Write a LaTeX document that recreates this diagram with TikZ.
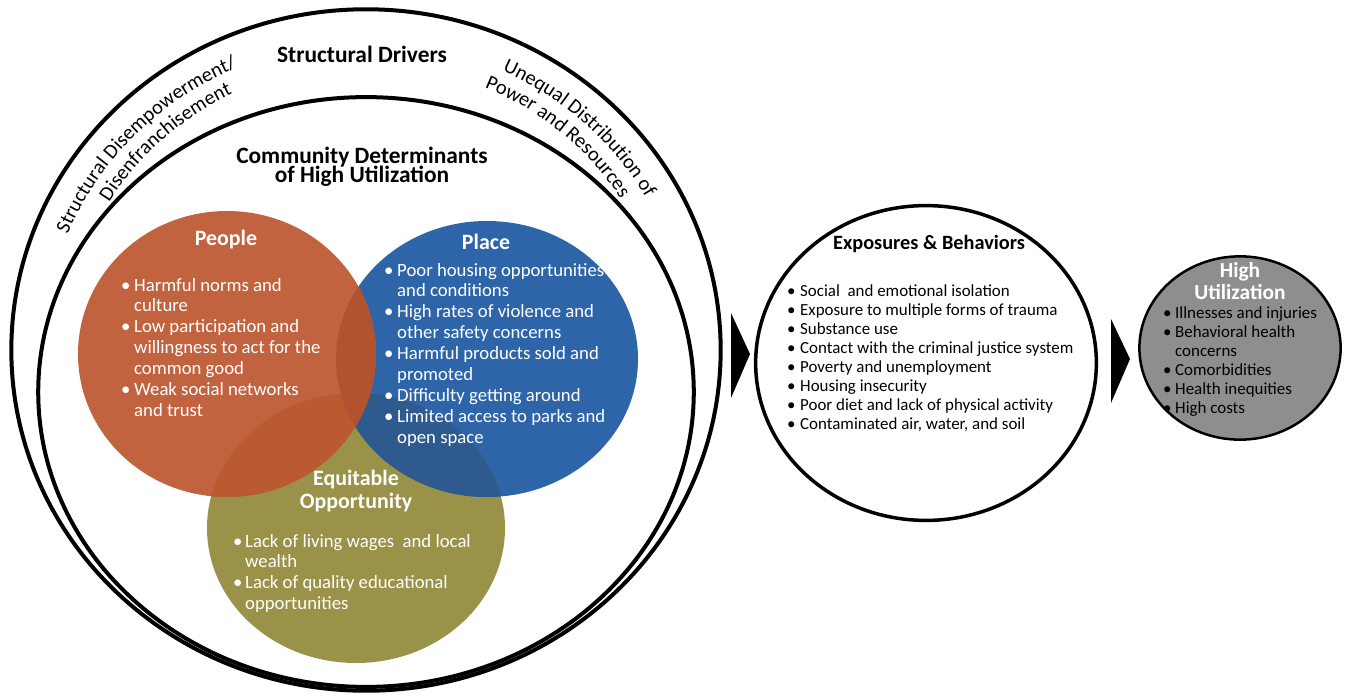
\documentclass[tikz,border=0pt]{standalone}
\usepackage{fontspec}
\setmainfont{Carlito}
\usetikzlibrary{decorations.text,shapes.geometric}
\definecolor{cPeople}{RGB}{194,99,64}
\definecolor{cPlace}{RGB}{46,101,168}
\definecolor{cEquit}{RGB}{154,146,72}
\definecolor{cPP}{RGB}{178,83,48}
\definecolor{cPE}{RGB}{185,90,48}
\definecolor{cLE}{RGB}{46,90,142}
\definecolor{cHU}{RGB}{142,142,142}
\newlength\bw
\newcommand\bl{\makebox[\bw][l]{\textbullet}}
\newcommand\ind{\hspace*{\bw}}
\newcommand\cvf{\fontsize{20.5}{20.5}\selectfont}
\begin{document}
\begin{tikzpicture}[x=1bp,y=1bp,
  ring/.style={draw=black, line width=4bp},
  peopleC/.style={insert path={(227,-354) ellipse [x radius=149, y radius=143]}},
  placeC/.style={insert path={(487,-359) ellipse [x radius=151, y radius=138]}},
  equitC/.style={insert path={(356,-528) ellipse [x radius=149, y radius=135]}},
  maintitle/.style={anchor=base, inner sep=0, font=\fontsize{23.5}{23.5}\selectfont\bfseries},
  vtitle/.style={anchor=base, inner sep=0, text=white, font=\fontsize{22}{23.5}\selectfont\bfseries},
  vlist/.style={anchor=base west, inner sep=0, text=white, font=\fontsize{18.8}{21}\selectfont},
  elist/.style={anchor=base west, inner sep=0, text=black, font=\fontsize{17}{19.2}\selectfont},
  curved/.style={decorate, decoration={text along path, text align=center, text={|\cvf|#1}}}
]
\useasboundingbox (0,0) rectangle (1351,-696);

% Venn circles
\fill[cEquit, equitC];
\fill[cPlace, placeC];
\fill[cPeople, peopleC];
\begin{scope}\path[clip, placeC]; \fill[cLE, equitC];\end{scope}
\begin{scope}\path[clip, peopleC]; \fill[cPE, equitC];\end{scope}
\begin{scope}\path[clip, peopleC]; \fill[cPP, placeC];\end{scope}

% rings
\node[ring, ellipse, minimum width=712, minimum height=684, inner sep=0] (outer) at (366,-350) {};
\node[ring, ellipse, minimum width=658, minimum height=592, inner sep=0] (inner) at (366,-392) {};

% curved labels
\path[curved={Structural Disempowerment/}] (366,-350) ++(171:322 and 308) arc[start angle=171, end angle=101, x radius=322, y radius=308];
\path[curved={Disenfranchisement}] (366,-350) ++(168:300 and 286) arc[start angle=168, end angle=98, x radius=300, y radius=286];
\path[curved={Unequal Distribution of}] (366,-350) ++(82:322 and 308) arc[start angle=82, end angle=12, x radius=322, y radius=308];
\path[curved={Power and Resources}] (366,-350) ++(84:300 and 286) arc[start angle=84, end angle=14, x radius=300, y radius=286];

\node[maintitle] (sd) at (362,-63) {Structural Drivers};
\node[maintitle] (cd1) at (362,-163) {Community Determinants};
\node[maintitle] (cd2) at (362,-182) {of High Utilization};

% People
\node[vtitle] (peopleT) at (226,-245) {People};
\node[vlist] (peopleL) at (121,-291) {\setlength\bw{13bp}\begin{tabular}[t]{@{}l@{}}
\bl Harmful norms and\\ \ind culture\\
\bl Low participation and\\ \ind willingness to act for the\\ \ind common good\\
\bl Weak social networks\\ \ind and trust\end{tabular}};

% Place
\node[vtitle] (placeT) at (486,-249) {Place};
\node[vlist] (placeL) at (384,-276) {\setlength\bw{13bp}\begin{tabular}[t]{@{}l@{}}
\bl Poor housing opportunities\\ \ind and conditions\\
\bl High rates of violence and\\ \ind other safety concerns\\
\bl Harmful products sold and\\ \ind promoted\\
\bl Difficulty getting around\\
\bl Limited access to parks and\\ \ind open space\end{tabular}};

% Equitable opportunity
\node[vtitle] (equitT) at (356,-485) {\begin{tabular}[t]{@{}c@{}}Equitable\\ Opportunity\end{tabular}};
\node[vlist] (equitL) at (233,-547) {\setlength\bw{12bp}\begin{tabular}[t]{@{}l@{}}
\bl Lack of living wages\ \ and local\\ \ind wealth\\
\bl Lack of quality educational\\ \ind opportunities\end{tabular}};

% arrows
\coordinate (a1t) at (731,-313); \coordinate (a1b) at (731,-398); \coordinate (a1p) at (750,-354);
\fill (a1t) -- (a1p) -- (a1b) -- cycle;
\coordinate (a2t) at (1111,-319); \coordinate (a2b) at (1111,-403); \coordinate (a2p) at (1130,-359);
\fill (a2t) -- (a2p) -- (a2b) -- cycle;

% Exposures
\node[ellipse, draw, line width=3.5bp, minimum width=342, minimum height=316, inner sep=0] (expo) at (926,-363) {};
\node[anchor=base, inner sep=0, font=\fontsize{20.4}{20.4}\selectfont\bfseries] (expoT) at (929,-249) {Exposures \& Behaviors};
\node[elist] (expoL) at (787,-296) {\setlength\bw{13bp}\begin{tabular}[t]{@{}l@{}}
\bl Social\ \ and emotional isolation\\
\bl Exposure to multiple forms of trauma\\
\bl Substance use\\
\bl Contact with the criminal justice system\\
\bl Poverty and unemployment\\
\bl Housing insecurity\\
\bl Poor diet and lack of physical activity\\
\bl Contaminated air, water, and soil\end{tabular}};

% High utilization
\node[ellipse, draw, fill=cHU, line width=2.5bp, minimum width=202, minimum height=184, inner sep=0] (hu) at (1240,-348) {};
\node[anchor=base, inner sep=0, text=white, font=\fontsize{21.5}{23}\selectfont\bfseries] (huT) at (1240,-277) {\begin{tabular}[t]{@{}c@{}}High\\ Utilization\end{tabular}};
\node[elist] (huL) at (1163,-318) {\setlength\bw{12bp}\begin{tabular}[t]{@{}l@{}}
\bl Illnesses and injuries\\
\bl Behavioral health\\ \ind concerns\\
\bl Comorbidities\\
\bl Health inequities\\
\bl High costs\end{tabular}};
\end{tikzpicture}
\end{document}
